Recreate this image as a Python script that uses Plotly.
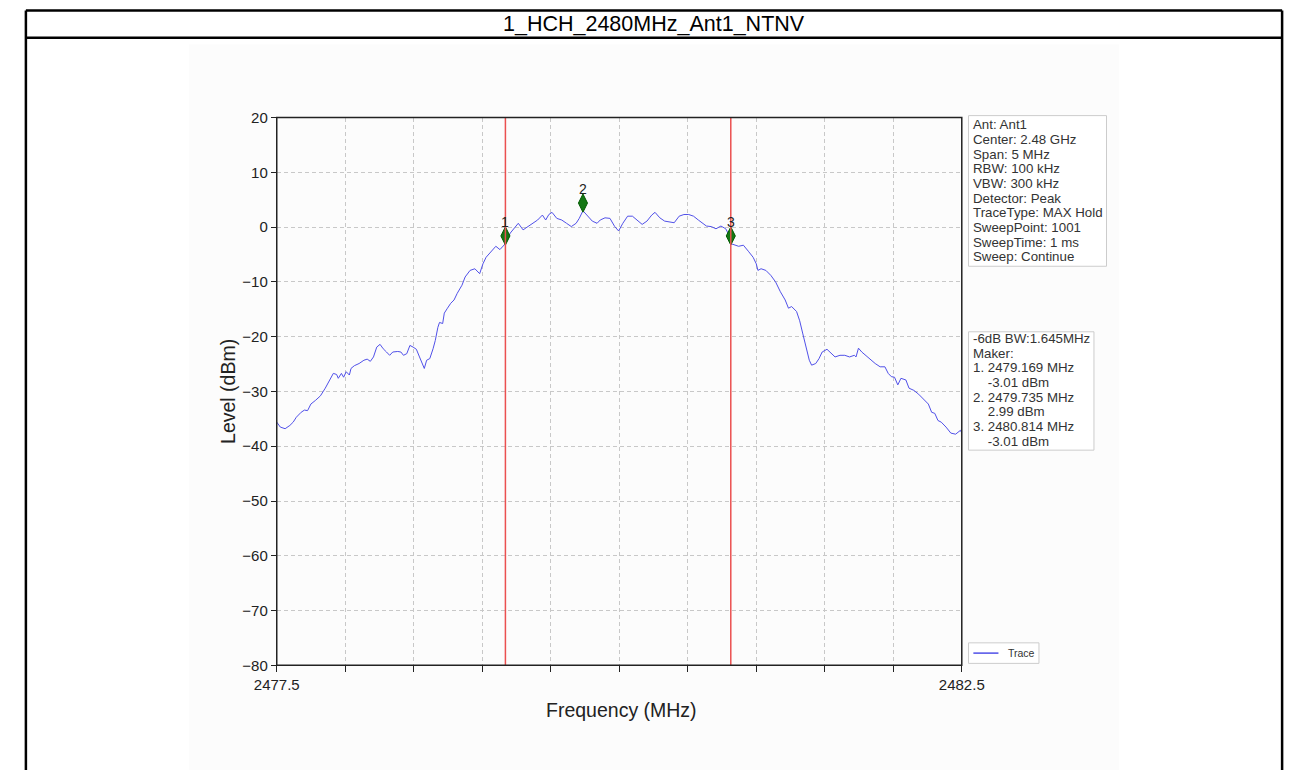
import plotly.graph_objects as go

W, H = 1308, 778

TITLE = "1_HCH_2480MHz_Ant1_NTNV"

freq_mhz = [
    2477.500, 2477.526, 2477.561, 2477.596, 2477.620, 2477.643, 2477.678, 2477.702, 2477.725, 2477.749,
    2477.784, 2477.819, 2477.854, 2477.889, 2477.913, 2477.937, 2477.949, 2477.972, 2477.988, 2478.007,
    2478.030, 2478.042, 2478.066, 2478.101, 2478.136, 2478.160, 2478.183, 2478.206, 2478.230, 2478.254,
    2478.277, 2478.301, 2478.324, 2478.347, 2478.383, 2478.406, 2478.425, 2478.449, 2478.472, 2478.495,
    2478.519, 2478.542, 2478.566, 2478.577, 2478.594, 2478.617, 2478.641, 2478.657, 2478.676, 2478.688,
    2478.711, 2478.723, 2478.746, 2478.770, 2478.794, 2478.817, 2478.852, 2478.875, 2478.911, 2478.946,
    2478.981, 2479.005, 2479.028, 2479.063, 2479.099, 2479.129, 2479.169, 2479.204, 2479.239, 2479.263,
    2479.298, 2479.333, 2479.368, 2479.404, 2479.439, 2479.463, 2479.486, 2479.509, 2479.544, 2479.580,
    2479.615, 2479.650, 2479.685, 2479.708, 2479.735, 2479.768, 2479.803, 2479.838, 2479.861, 2479.896,
    2479.932, 2479.967, 2479.995, 2480.026, 2480.061, 2480.096, 2480.132, 2480.167, 2480.202, 2480.237,
    2480.261, 2480.296, 2480.331, 2480.366, 2480.401, 2480.437, 2480.472, 2480.507, 2480.542, 2480.577,
    2480.606, 2480.636, 2480.671, 2480.706, 2480.742, 2480.777, 2480.800, 2480.814, 2480.871, 2480.906,
    2480.942, 2480.977, 2481.000, 2481.012, 2481.035, 2481.070, 2481.106, 2481.141, 2481.176, 2481.211,
    2481.235, 2481.258, 2481.294, 2481.317, 2481.340, 2481.364, 2481.387, 2481.404, 2481.434, 2481.458,
    2481.481, 2481.516, 2481.540, 2481.575, 2481.611, 2481.646, 2481.681, 2481.716, 2481.728, 2481.746,
    2481.770, 2481.798, 2481.833, 2481.868, 2481.904, 2481.939, 2481.963, 2481.986, 2482.009, 2482.033,
    2482.056, 2482.092, 2482.115, 2482.150, 2482.185, 2482.220, 2482.256, 2482.280, 2482.303, 2482.326,
    2482.350, 2482.385, 2482.420, 2482.455, 2482.490, 2482.500,
]

level_dbm = [
    -35.6, -36.5, -36.8, -36.2, -35.6, -34.7, -33.8, -33.4, -33.5, -32.3,
    -31.6, -30.8, -29.4, -27.9, -26.7, -26.9, -27.6, -26.7, -27.4, -26.4,
    -27.0, -25.8, -25.3, -24.9, -24.3, -24.1, -24.5, -23.7, -21.9, -21.4,
    -22.2, -22.8, -23.4, -22.8, -22.7, -22.8, -23.4, -23.1, -21.6, -21.9,
    -22.3, -23.7, -25.1, -25.8, -24.3, -24.0, -22.2, -20.7, -18.3, -17.4,
    -17.6, -15.7, -14.8, -13.9, -13.3, -12.1, -10.6, -9.1, -7.9, -7.6,
    -8.5, -6.7, -5.5, -4.6, -3.5, -4.1, -3.01, -1.1, 0.1, 0.7,
    -0.5, 0.1, 0.7, 1.3, 2.2, 1.3, 2.3, 2.7, 1.6, 1.3,
    0.7, 0.1, 0.7, 1.6, 2.99, 2.0, 1.1, 0.7, 1.3, 1.7,
    1.6, 0.1, -0.7, 0.7, 2.0, 2.0, 1.3, 0.5, 1.1, 2.2,
    2.7, 1.7, 1.1, 0.95, 0.8, 2.0, 2.3, 2.3, 2.0, 1.3,
    0.8, 0.2, 0.1, -0.3, 0.2, -0.3, -1.4, -3.01, -3.5, -3.3,
    -4.4, -5.5, -6.7, -7.9, -7.6, -7.9, -8.8, -10.0, -11.8, -13.3,
    -14.8, -14.5, -15.4, -17.1, -19.5, -22.2, -24.3, -25.2, -24.9, -24.0,
    -22.8, -22.3, -22.8, -23.7, -23.4, -23.4, -23.7, -23.4, -23.7, -22.1,
    -22.8, -23.4, -24.3, -24.9, -25.5, -25.5, -26.7, -27.3, -27.4, -28.8,
    -27.6, -27.9, -29.4, -29.8, -30.5, -31.4, -32.3, -33.8, -34.0, -35.3,
    -35.6, -36.5, -37.6, -37.8, -37.1, -37.6,
]

marker_labels = ["1", "2", "3"]
marker_freq = [2479.169, 2479.735, 2480.814]
marker_level = [-3.01, 2.99, -3.01]
MARKER_DRAW_OFFSET_DB = 1.4  # diamonds are drawn slightly above the measured level

bw_lines_freq = [2479.169, 2480.814]

x_ticks = [2477.5, 2478.0, 2478.5, 2479.0, 2479.5, 2480.0, 2480.5, 2481.0, 2481.5, 2482.0, 2482.5]
x_ticktext = ["2477.5", "", "", "", "", "", "", "", "", "", "2482.5"]
y_ticks = [20, 10, 0, -10, -20, -30, -40, -50, -60, -70, -80]

info_lines = [
    "Ant: Ant1", "Center: 2.48 GHz", "Span: 5 MHz", "RBW: 100 kHz", "VBW: 300 kHz",
    "Detector: Peak", "TraceType: MAX Hold", "SweepPoint: 1001", "SweepTime: 1 ms",
    "Sweep: Continue",
]
bw_lines = [
    "-6dB BW:1.645MHz", "Maker:",
    "1. 2479.169 MHz", "    -3.01 dBm",
    "2. 2479.735 MHz", "    2.99 dBm",
    "3. 2480.814 MHz", "    -3.01 dBm",
]
legend_label = "Trace"

FONT = "Arial, 'Liberation Sans', sans-serif"
TRACE_COLOR = "rgb(80,80,232)"


def px(x):
    return x / W


def py(y):
    return 1 - y / H


PLOT_L, PLOT_R, PLOT_T, PLOT_B = 263, 973, 111, 671

fig = go.Figure()

# faint image background (first, so everything else sits on top)
fig.add_shape(type="rect", xref="paper", yref="paper", x0=px(172), x1=px(1136), y0=py(778), y1=py(36),
              fillcolor="rgb(252,252,252)", line=dict(width=0), layer="below")

fig.add_trace(go.Scatter(
    x=freq_mhz, y=level_dbm, mode="lines", name=legend_label,
    line=dict(color=TRACE_COLOR, width=1),
    showlegend=False,
))

fig.add_trace(go.Scatter(
    x=marker_freq, y=[v + MARKER_DRAW_OFFSET_DB for v in marker_level], mode="markers",
    marker=dict(symbol="diamond-tall", size=13, color="rgb(20,120,20)",
                line=dict(color="rgb(0,90,0)", width=1)),
    showlegend=False, hoverinfo="skip",
))

for f in bw_lines_freq:
    fig.add_shape(type="line", xref="x", yref="y", x0=f, x1=f, y0=-80, y1=20,
                  line=dict(color="rgb(235,80,80)", width=1.5), layer="above")

annotations = []
for lab, f, v in zip(marker_labels, marker_freq, marker_level):
    annotations.append(dict(x=f, y=v + MARKER_DRAW_OFFSET_DB, xref="x", yref="y", text=lab,
                            showarrow=False, yshift=14,
                            font=dict(family=FONT, size=14, color="#222")))

# title
annotations.append(dict(x=px(654), y=py(15), xref="paper", yref="paper", text=TITLE, showarrow=False,
                        xanchor="center", yanchor="middle",
                        font=dict(family=FONT, size=21.5, color="black")))
# axis titles
annotations.append(dict(x=px(213), y=py(391), xref="paper", yref="paper", text="Level (dBm)",
                        showarrow=False, textangle=-90, xanchor="center", yanchor="middle",
                        font=dict(family=FONT, size=19.5, color="#222")))
annotations.append(dict(x=px(620), y=py(717), xref="paper", yref="paper", text="Frequency (MHz)",
                        showarrow=False, xanchor="center", yanchor="middle",
                        font=dict(family=FONT, size=19.5, color="#222")))


def add_text_box(lines, x_left, y_first, box):
    x0, y0, x1, y1 = box
    fig.add_shape(type="rect", xref="paper", yref="paper", x0=px(x0), x1=px(x1), y0=py(y1), y1=py(y0),
                  line=dict(color="#cccccc", width=1), fillcolor="white", layer="above")
    for i, line in enumerate(lines):
        txt = line.replace(" ", "&nbsp;") if line.startswith(" ") else line
        annotations.append(dict(x=px(x_left), y=py(y_first + 15 * i), xref="paper", yref="paper",
                                text=txt, showarrow=False, xanchor="left", yanchor="middle",
                                font=dict(family=FONT, size=13.3, color="#333")))


add_text_box(info_lines, 983, 118.5, (980, 109, 1123, 263))
add_text_box(bw_lines, 983, 337, (980, 330, 1110, 451))

# legend box
fig.add_shape(type="rect", xref="paper", yref="paper", x0=px(980), x1=px(1053), y0=py(669), y1=py(648),
              line=dict(color="#cccccc", width=1), fillcolor="white", layer="above")
fig.add_shape(type="line", xref="paper", yref="paper", x0=px(985), x1=px(1011), y0=py(658.5), y1=py(658.5),
              line=dict(color=TRACE_COLOR, width=1.5), layer="above")
annotations.append(dict(x=px(1019), y=py(658.5), xref="paper", yref="paper", text=legend_label,
                        showarrow=False, xanchor="left", yanchor="middle",
                        font=dict(family=FONT, size=10.5, color="#333")))

shapes = [
    # outer table borders
    dict(type="line", xref="paper", yref="paper", x0=px(3), x1=px(1305), y0=py(1.5), y1=py(1.5),
         line=dict(color="black", width=2.5)),
    dict(type="line", xref="paper", yref="paper", x0=px(3), x1=px(1305), y0=py(29.5), y1=py(29.5),
         line=dict(color="black", width=2.5)),
    dict(type="line", xref="paper", yref="paper", x0=px(3), x1=px(3), y0=py(1.5), y1=py(778),
         line=dict(color="black", width=2.5)),
    dict(type="line", xref="paper", yref="paper", x0=px(1305), x1=px(1305), y0=py(1.5), y1=py(778),
         line=dict(color="black", width=2.5)),
    # plot frame
    dict(type="rect", xref="paper", yref="paper", x0=px(PLOT_L), x1=px(PLOT_R), y0=py(PLOT_B), y1=py(PLOT_T),
         line=dict(color="#222", width=1.5), layer="above"),
]
for s in shapes:
    fig.add_shape(**s)

fig.update_layout(
    width=W, height=H, autosize=False,
    margin=dict(l=0, r=0, t=0, b=0),
    paper_bgcolor="white", plot_bgcolor="white",
    annotations=annotations,
    font=dict(family=FONT, color="#333"),
    showlegend=False,
    xaxis=dict(domain=[px(PLOT_L), px(PLOT_R)], range=[2477.5, 2482.5], tickvals=x_ticks,
               ticktext=x_ticktext, ticks="outside", ticklen=6, tickcolor="#222", tickwidth=1,
               showgrid=True, gridcolor="#c8c8c8", griddash="4px,3px", gridwidth=1,
               zeroline=False, showline=False, tickfont=dict(size=15, color="#222")),
    yaxis=dict(domain=[py(PLOT_B), py(PLOT_T)], range=[-80, 20], tickvals=y_ticks,
               ticks="outside", ticklen=5, tickcolor="#222", tickwidth=1,
               showgrid=True, gridcolor="#c8c8c8", griddash="4px,3px", gridwidth=1,
               zeroline=False, showline=False, tickfont=dict(size=15, color="#222")),
)

fig.write_html("out.html", config={"displayModeBar": False},
               post_script="document.body.style.margin='0';document.body.style.overflow='hidden';")
